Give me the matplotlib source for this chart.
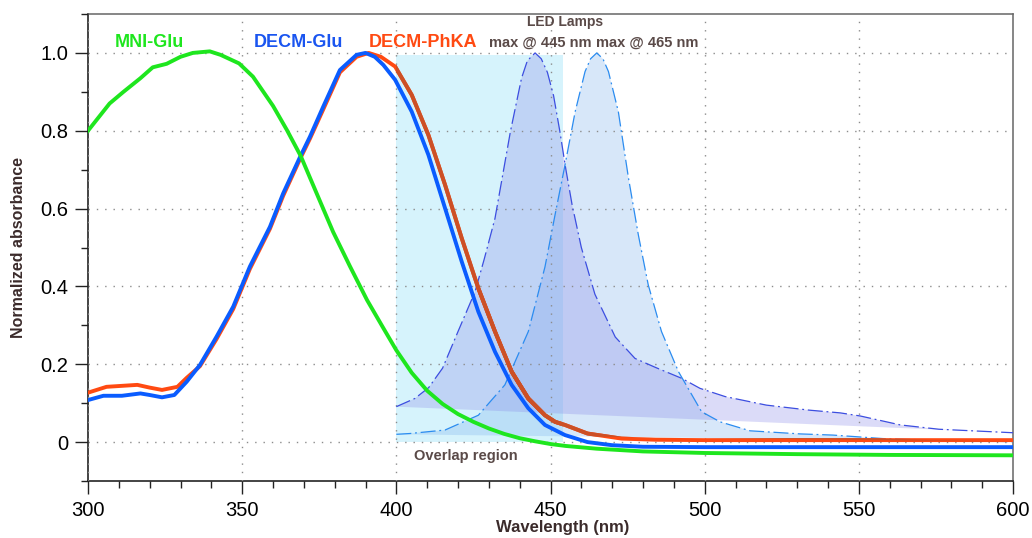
import matplotlib
matplotlib.use("Agg")
import matplotlib.pyplot as plt
from matplotlib.ticker import MultipleLocator, FuncFormatter
from matplotlib.patches import Rectangle

plt.rcParams['font.family'] = ['Liberation Sans', 'DejaVu Sans']

# ---------------- data ----------------
mni_x = [300, 304, 307, 311.5, 317, 321, 325.5, 330, 334, 339.5, 343, 349, 353.5, 360, 364.5,
         369, 374, 379.5, 385, 390.5, 396, 400, 405, 410, 415, 420, 425, 430, 435, 440, 445,
         450, 455, 465, 480, 500, 530, 560, 600]
mni_y = [0.80, 0.84, 0.87, 0.90, 0.935, 0.963, 0.972, 0.99, 1.0, 1.004, 0.995, 0.973, 0.939,
         0.864, 0.802, 0.735, 0.642, 0.54, 0.451, 0.365, 0.29, 0.236, 0.178, 0.132, 0.098,
         0.072, 0.052, 0.035, 0.021, 0.01, 0.002, -0.005, -0.01, -0.017, -0.024, -0.028,
         -0.031, -0.033, -0.034]

glu_x = [300, 305, 311, 317, 320, 324, 328, 332, 336.3, 341.7, 347.1, 352.5, 359, 363.3, 368.8,
         372, 376.3, 381.7, 387.1, 390, 393, 395.8, 399.6, 405, 410.4, 415.8, 421.2, 426.6, 432,
         437.4, 442.8, 448.2, 454.7, 462, 470, 480, 500, 550, 600]
glu_y = [0.108, 0.119, 0.119, 0.125, 0.121, 0.115, 0.121, 0.155, 0.198, 0.271, 0.348, 0.451,
         0.553, 0.639, 0.733, 0.785, 0.862, 0.956, 0.995, 1.0, 0.99, 0.969, 0.931, 0.849, 0.738,
         0.601, 0.464, 0.335, 0.232, 0.147, 0.087, 0.044, 0.018, 0.0, -0.008, -0.012, -0.013,
         -0.013, -0.013]

phka_x = [300, 306, 316, 320, 324, 329, 332, 336.3, 341.7, 347.1, 352.5, 359, 363.3, 368.8, 372,
          376.3, 381.7, 387.1, 391, 395, 399.6, 405, 410.4, 415.8, 421.2, 426.6, 432, 437.4,
          442.8, 448.2, 451.5, 454.7, 462, 473, 484, 500, 550, 600]
phka_y = [0.127, 0.142, 0.147, 0.14, 0.134, 0.142, 0.165, 0.195, 0.265, 0.342, 0.445, 0.548,
          0.633, 0.728, 0.78, 0.855, 0.95, 0.99, 1.0, 0.99, 0.965, 0.892, 0.789, 0.661, 0.524,
          0.395, 0.284, 0.181, 0.112, 0.069, 0.052, 0.044, 0.022, 0.009, 0.006, 0.005, 0.005, 0.005]

led445_x = [400, 406, 410.5, 415, 420, 425.5, 428.5, 432, 437, 440.6, 442.5, 445, 447, 449, 451,
            453, 455, 457, 460, 464.4, 471, 477.4, 484, 492.5, 498.5, 506.6, 520, 534, 544,
            550.5, 563.5, 576, 600]
led445_y = [0.091, 0.112, 0.14, 0.19, 0.284, 0.386, 0.47, 0.575, 0.798, 0.935, 0.98, 1.0, 0.985,
            0.95, 0.89, 0.8, 0.7, 0.61, 0.5, 0.38, 0.27, 0.215, 0.192, 0.164, 0.138, 0.117,
            0.095, 0.082, 0.075, 0.067, 0.044, 0.033, 0.024]

led465_x = [400, 404.4, 415.8, 426.6, 435.2, 442.8, 448.2, 451.5, 454.7, 458, 461.2, 463, 465, 467,
            468.8, 472, 475.3, 478.5, 481.7, 486, 491.5, 499, 505, 514.7, 531, 541.6, 557.8, 574, 600]
led465_y = [0.02, 0.022, 0.031, 0.069, 0.147, 0.284, 0.45, 0.585, 0.712, 0.849, 0.952, 0.985,
            1.0, 0.985, 0.952, 0.849, 0.678, 0.532, 0.404, 0.284, 0.181, 0.078, 0.052, 0.029,
            0.021, 0.018, 0.009, 0.005, 0.001]

overlap_range = (400, 454)

# ---------------- figure ----------------
fig = plt.figure(figsize=(10.32, 5.38), dpi=100)
ax = fig.add_axes([88/1032, 57/538, 925/1032, 467/538])

ax.set_xlim(300, 600)
ax.set_ylim(-0.1, 1.1)

# overlap region
rect = Rectangle((overlap_range[0], 0), overlap_range[1]-overlap_range[0], 0.995,
                 facecolor='#d6f3fc', edgecolor='none', zorder=0.5)
ax.add_patch(rect)

# LED lamp spectra (filled polygons closed by chord)
p465, = ax.fill(led465_x, led465_y, facecolor='#7db2ee', alpha=0.30, edgecolor='none', zorder=1)
p445, = ax.fill(led445_x, led445_y, facecolor='#8a8ae8', alpha=0.30, edgecolor='none', zorder=1.1)
ax.plot(led445_x, led445_y, color='#3c4ee0', lw=0.9, ls=(0, (12, 3, 1.5, 3)), zorder=2.6)
ax.plot(led465_x, led465_y, color='#2b8cf0', lw=0.9, ls=(0, (12, 3, 1.5, 3)), zorder=2.6)

# absorbance curves
ax.plot(phka_x, phka_y, color='#ff4a12', lw=2.8, zorder=3, solid_joinstyle='round')
# darker tint where the orange trace lies under the translucent regions
for clip in (rect, p445, p465):
    ln, = ax.plot(phka_x, phka_y, color='#cc5026', lw=2.8, zorder=3.05, solid_joinstyle='round')
    ln.set_clip_path(clip)
ax.plot(glu_x, glu_y, color='#0a5cff', lw=2.8, zorder=3.1, solid_joinstyle='round')
ax.plot(mni_x, mni_y, color='#1ee61e', lw=2.8, zorder=3.2, solid_joinstyle='round')

# grid
ax.set_axisbelow(False)
ax.grid(True, which='major', color='#8c8c8c', lw=1.0, ls=(0, (1, 5)))

# ticks
ax.xaxis.set_major_locator(MultipleLocator(50))
ax.xaxis.set_minor_locator(MultipleLocator(10))
ax.yaxis.set_major_locator(MultipleLocator(0.2))
ax.yaxis.set_minor_locator(MultipleLocator(0.1))
ax.yaxis.set_major_formatter(FuncFormatter(lambda v, p: '0' if abs(v) < 1e-9 else f'{v:.1f}'))
ax.tick_params(which='major', direction='out', length=9.5, width=1.0, labelsize=14.5, pad=4.5,
               color='#222222')
ax.tick_params(which='minor', direction='out', length=5, width=1.0, color='#222222')
ax.tick_params(axis='x', which='major', pad=5)

for s in ['left', 'bottom']:
    ax.spines[s].set_color('#111111')
    ax.spines[s].set_linewidth(1.1)
for s in ['top', 'right']:
    ax.spines[s].set_color('#666666')
    ax.spines[s].set_linewidth(1.1)

ax.set_xlabel('Wavelength (nm)', fontsize=12, fontweight='bold', color='#3b2b2b')
ax.xaxis.set_label_coords(0.5135, -0.083)
ax.set_ylabel('Normalized absorbance', fontsize=11.5, fontweight='bold', color='#3b2b2b')
ax.yaxis.set_label_coords(-0.067, 0.5)

# annotations
ax.text(319.8, 1.028, 'MNI-Glu', color='#1ee61e', fontsize=13, fontweight='bold',
        ha='center', va='center', zorder=5)
ax.text(368.1, 1.028, 'DECM-Glu', color='#1a55f0', fontsize=13, fontweight='bold',
        ha='center', va='center', zorder=5)
ax.text(408.7, 1.028, 'DECM-PhKA', color='#ff4a12', fontsize=13, fontweight='bold',
        ha='center', va='center', zorder=5)
ax.text(454.7, 1.080, 'LED Lamps', color='#5a4a48', fontsize=10, fontweight='bold',
        ha='center', va='center', zorder=5)
ax.text(446.6, 1.026, 'max @ 445 nm', color='#5a4a48', fontsize=10.5, fontweight='bold',
        ha='center', va='center', zorder=5)
ax.text(481.3, 1.026, 'max @ 465 nm', color='#5a4a48', fontsize=10.5, fontweight='bold',
        ha='center', va='center', zorder=5)
ax.text(422.6, -0.036, 'Overlap region', color='#5a4a48', fontsize=10.5, fontweight='bold',
        ha='center', va='center', zorder=5)

fig.savefig('out.png', dpi=100)
